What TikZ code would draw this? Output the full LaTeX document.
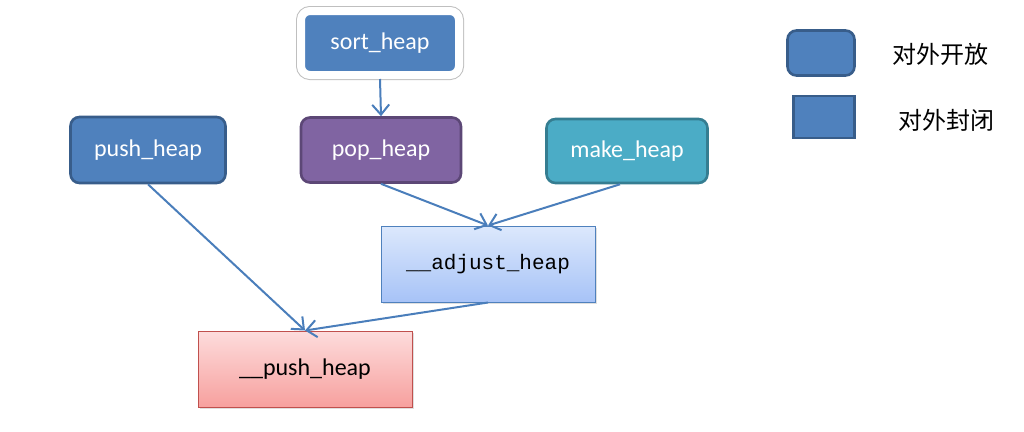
\documentclass[tikz,border=0pt]{standalone}
\usepackage{fontspec}
\setmainfont{Carlito}
\setmonofont{Liberation Mono}
\newfontfamily\cjk{Noto Sans CJK SC}
\usetikzlibrary{arrows.meta}
\usetikzlibrary{shadows}
\definecolor{accblue}{HTML}{4F81BD}
\definecolor{accblueline}{HTML}{385D8A}
\definecolor{accpurple}{HTML}{8064A2}
\definecolor{accpurpleline}{HTML}{5C4776}
\definecolor{accteal}{HTML}{4BACC6}
\definecolor{acctealline}{HTML}{357D91}
\definecolor{arrowblue}{HTML}{4A7EBB}
\definecolor{adjtop}{HTML}{DCE8FC}
\definecolor{adjbottom}{HTML}{A7C3F7}
\definecolor{pushtop}{HTML}{FDDCDC}
\definecolor{pushbottom}{HTML}{F7A09E}
\definecolor{pushline}{HTML}{C0504D}
\tikzstyle{open func}=[rounded corners=9pt, line width=2.6pt, text=white, font=\fontsize{24}{28}\selectfont, minimum height=64pt, inner sep=0pt]
\tikzstyle{inner func}=[draw, line width=1pt, font=\fontsize{24}{28}\selectfont, minimum height=76pt, minimum width=214pt, inner sep=0pt, drop shadow={shadow xshift=1.5pt, shadow yshift=-1.5pt, opacity=0.25}]
\tikzstyle{call}=[draw=arrowblue, line width=2pt, -{Straight Barb[length=10pt, width=17pt, line width=2pt]}]

\begin{document}
\begin{tikzpicture}[x=1pt, y=-1pt]
      \useasboundingbox (0, 0) rectangle (1024, 431);
      \node[open func, fill=accblue, draw=white, line width=8pt, minimum width=158pt,
        preaction={draw=black!25, line width=10pt}] (sort_h) at (380, 43) {sort\_heap};
      \node[open func, fill=accblue, draw=accblueline, minimum width=155pt, minimum height=66pt] (push_h) at (148, 150) {push\_heap};
      \node[open func, fill=accpurple, draw=accpurpleline, minimum width=160pt, minimum height=65pt] (pop_h) at (381, 150) {pop\_heap};
      \node[open func, fill=accteal, draw=acctealline, minimum width=161pt, minimum height=64pt] (make_h) at (627, 151) {make\_heap};
      \node[inner func, draw=accblue, top color=adjtop, bottom color=adjbottom, font=\ttfamily\fontsize{21}{25}\selectfont] (adjust_h) at (488, 264) {\_\_adjust\_heap};
      \node[inner func, draw=pushline, top color=pushtop, bottom color=pushbottom] (ipush_h) at (305, 369) {\_\_push\_heap};
      % legend
      \node[open func, fill=accblue, draw=accblueline, minimum width=67pt, minimum height=45pt] (key_open) at (821, 53) {};
      \node[fill=accblue, draw=accblueline, line width=2.6pt, minimum width=61pt, minimum height=42pt] (key_closed) at (824, 117) {};
      \node[font=\cjk\fontsize{24}{28}\selectfont, anchor=west, inner sep=0pt] (txt_open) at (892, 54) {对外开放};
      \node[font=\cjk\fontsize{24}{28}\selectfont, anchor=west, inner sep=0pt] (txt_closed) at (898, 120) {对外封闭};
      \draw[call] (sort_h.south) to (pop_h.north);
      \draw[call] (push_h.south) to (ipush_h.north);
      \draw[call] (pop_h.south) to (adjust_h.north);
      \draw[call] ([xshift=-7pt]make_h.south) to (adjust_h.north);
      \draw[call] (adjust_h.south) to (ipush_h.north);
    \end{tikzpicture}
\end{document}
